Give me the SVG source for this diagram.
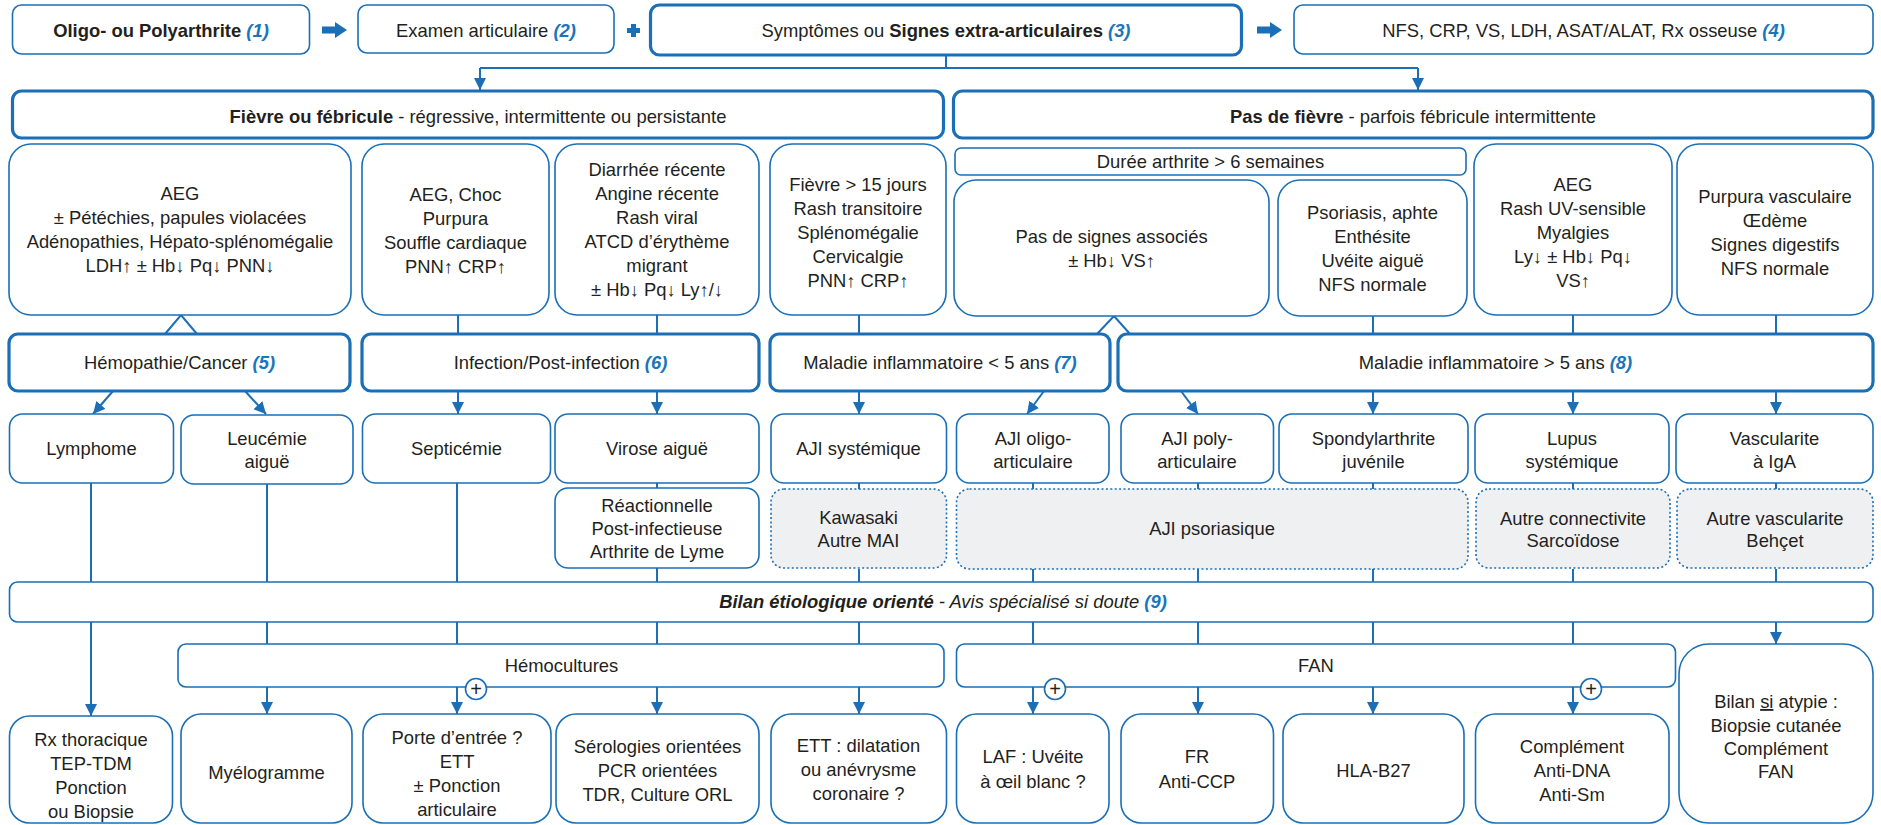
<svg xmlns="http://www.w3.org/2000/svg" width="1881" height="825" viewBox="0 0 1881 825">
<defs>
<style>
.b{fill:#fff;stroke:#1a6fb6;stroke-width:1.6}
.k{fill:#fff;stroke:#1a6fb6;stroke-width:3.2}
.d{fill:#eef0f2;stroke:#1a6fb6;stroke-width:1.6;stroke-dasharray:2 2.4}
.c{stroke:#1a6fb6;stroke-width:2;fill:none}
.a{stroke:#1a6fb6;stroke-width:2;fill:none;marker-end:url(#ah)}
text{font-family:"Liberation Sans",Arial,sans-serif;font-size:18.4px;fill:#231f20;text-anchor:middle}
.bo{font-weight:bold}
.n{fill:#1a75bc;font-weight:bold;font-style:italic}
.pc{fill:#fff;stroke:#1a6fb6;stroke-width:1.6}
.pt{font-size:20px}
.ba{fill:#1a6fb6}
</style>
<marker id="ah" markerUnits="userSpaceOnUse" markerWidth="13" markerHeight="13" refX="12" refY="6" orient="auto">
<path d="M0,0 L12,6 L0,12 z" fill="#1a6fb6"/>
</marker>
</defs>
<rect width="1881" height="825" fill="#fff"/>

<g id="connectors">
<path class="c" d="M946,56 V68 M480,68 H1418"/>
<path class="a" d="M480,68 V90"/>
<path class="a" d="M1418,68 V90"/>
<path class="c" d="M458,315 V333 M657,315 V333 M859,315 V333 M1373,316 V333 M1573,315 V333 M1776,315 V333"/>
<polyline class="c" points="165,334 181,315 197,334"/>
<polyline class="c" points="1097,334 1114,316 1130,334"/>
<path class="a" d="M113,391 L93,414"/>
<path class="a" d="M245,391 L266,414"/>
<path class="a" d="M458,391 V414"/>
<path class="a" d="M657,391 V414"/>
<path class="a" d="M859,391 V414"/>
<path class="a" d="M1044,391 L1027,414"/>
<path class="a" d="M1181,391 L1198,414"/>
<path class="a" d="M1373,391 V414"/>
<path class="a" d="M1573,391 V414"/>
<path class="a" d="M1776,391 V414"/>
<path class="c" d="M91,483 V582 M267,484 V582 M457,483 V582 M657,483 V489 M657,568 V582 M859,483 V489 M859,569 V582 M1033,483 V489 M1033,569 V582 M1198,483 V489 M1198,569 V582 M1373,483 V489 M1373,569 V582 M1573,483 V489 M1573,569 V582 M1776,483 V489 M1776,569 V582"/>
<path class="c" d="M267,622 V644 M457,622 V644 M657,622 V644 M859,622 V644 M1033,622 V644 M1198,622 V644 M1373,622 V644 M1573,622 V644"/>
<path class="a" d="M91,622 V716"/>
<path class="a" d="M267,687 V714"/>
<path class="a" d="M457,687 V714"/>
<path class="a" d="M657,687 V714"/>
<path class="a" d="M859,687 V714"/>
<path class="a" d="M1033,687 V714"/>
<path class="a" d="M1198,687 V714"/>
<path class="a" d="M1373,687 V714"/>
<path class="a" d="M1573,687 V714"/>
<path class="a" d="M1776,622 V644"/>
<path class="ba" d="M322,26.5 H335 V22 L347,30 L335,38 V33.5 H322 Z"/>
<path class="ba" d="M1257,26.5 H1270 V22 L1282,30 L1270,38 V33.5 H1257 Z"/>
<path class="ba" d="M631,24 H636 V28 H640 V33 H636 V37 H631 V33 H627 V28 H631 Z"/>
</g>

<g id="n1"><rect class="b" x="12.5" y="5" width="297" height="49" rx="9"/><text x="161" y="36.5"><tspan class="bo">Oligo- ou Polyarthrite </tspan><tspan class="n">(1)</tspan></text></g>
<g id="n2"><rect class="b" x="358" y="5" width="256" height="48" rx="9"/><text x="486" y="36.5">Examen articulaire <tspan class="n">(2)</tspan></text></g>
<g id="n3"><rect class="k" x="650.5" y="5" width="591" height="50" rx="9"/><text x="946" y="36.5">Symptômes ou <tspan class="bo">Signes extra-articulaires</tspan> <tspan class="n">(3)</tspan></text></g>
<g id="n4"><rect class="b" x="1294" y="5" width="579" height="49" rx="9"/><text x="1583.5" y="36.5">NFS, CRP, VS, LDH, ASAT/ALAT, Rx osseuse <tspan class="n">(4)</tspan></text></g>

<g id="fievre"><rect class="k" x="12.5" y="91" width="931" height="47" rx="9"/><text x="478" y="122.5"><tspan class="bo">Fièvre ou fébricule</tspan> - régressive, intermittente ou persistante</text></g>
<g id="pasfievre"><rect class="k" x="953.5" y="91" width="919.5" height="47" rx="9"/><text x="1413" y="122.5"><tspan class="bo">Pas de fièvre</tspan> - parfois fébricule intermittente</text></g>

<g id="cardA"><rect class="b" x="9" y="144" width="342" height="171" rx="22"/><text x="180"><tspan x="180" y="200">AEG</tspan><tspan x="180" y="224">± Pétéchies, papules violacées</tspan><tspan x="180" y="248">Adénopathies, Hépato-splénomégalie</tspan><tspan x="180" y="272">LDH↑ ± Hb↓ Pq↓ PNN↓</tspan></text></g>
<g id="cardB"><rect class="b" x="362" y="144" width="187" height="171" rx="22"/><text><tspan x="455.5" y="201">AEG, Choc</tspan><tspan x="455.5" y="225">Purpura</tspan><tspan x="455.5" y="249">Souffle cardiaque</tspan><tspan x="455.5" y="273">PNN↑ CRP↑</tspan></text></g>
<g id="cardC"><rect class="b" x="555" y="144" width="204" height="171" rx="22"/><text><tspan x="657" y="176">Diarrhée récente</tspan><tspan x="657" y="200">Angine récente</tspan><tspan x="657" y="224">Rash viral</tspan><tspan x="657" y="248">ATCD d’érythème</tspan><tspan x="657" y="272">migrant</tspan><tspan x="657" y="296">± Hb↓ Pq↓ Ly↑/↓</tspan></text></g>
<g id="cardD"><rect class="b" x="770" y="144" width="176" height="171" rx="22"/><text><tspan x="858" y="191">Fièvre &gt; 15 jours</tspan><tspan x="858" y="215">Rash transitoire</tspan><tspan x="858" y="239">Splénomégalie</tspan><tspan x="858" y="263">Cervicalgie</tspan><tspan x="858" y="287">PNN↑ CRP↑</tspan></text></g>
<g id="duree"><rect class="b" x="955" y="148" width="511" height="27" rx="6"/><text x="1210.5" y="168">Durée arthrite &gt; 6 semaines</text></g>
<g id="cardE"><rect class="b" x="954" y="180" width="315" height="136" rx="22"/><text><tspan x="1111.5" y="243">Pas de signes associés</tspan><tspan x="1111.5" y="267">± Hb↓ VS↑</tspan></text></g>
<g id="cardF"><rect class="b" x="1278" y="180" width="189" height="136" rx="22"/><text><tspan x="1372.5" y="219">Psoriasis, aphte</tspan><tspan x="1372.5" y="243">Enthésite</tspan><tspan x="1372.5" y="267">Uvéite aiguë</tspan><tspan x="1372.5" y="291">NFS normale</tspan></text></g>
<g id="cardG"><rect class="b" x="1474" y="144" width="198" height="171" rx="22"/><text><tspan x="1573" y="191">AEG</tspan><tspan x="1573" y="215">Rash UV-sensible</tspan><tspan x="1573" y="239">Myalgies</tspan><tspan x="1573" y="263">Ly↓ ± Hb↓ Pq↓</tspan><tspan x="1573" y="287">VS↑</tspan></text></g>
<g id="cardH"><rect class="b" x="1677" y="144" width="196" height="171" rx="22"/><text><tspan x="1775" y="203">Purpura vasculaire</tspan><tspan x="1775" y="227">Œdème</tspan><tspan x="1775" y="251">Signes digestifs</tspan><tspan x="1775" y="275">NFS normale</tspan></text></g>

<g id="cat5"><rect class="k" x="9" y="334" width="341" height="57" rx="9"/><text x="179.5" y="368.5">Hémopathie/Cancer <tspan class="n">(5)</tspan></text></g>
<g id="cat6"><rect class="k" x="362" y="334" width="397" height="57" rx="9"/><text x="560.5" y="368.5">Infection/Post-infection <tspan class="n">(6)</tspan></text></g>
<g id="cat7"><rect class="k" x="770" y="334" width="340" height="57" rx="9"/><text x="940" y="368.5">Maladie inflammatoire &lt; 5 ans <tspan class="n">(7)</tspan></text></g>
<g id="cat8"><rect class="k" x="1118" y="334" width="755" height="57" rx="9"/><text x="1495.5" y="368.5">Maladie inflammatoire &gt; 5 ans <tspan class="n">(8)</tspan></text></g>

<g id="lymphome"><rect class="b" x="9.5" y="414" width="164" height="69" rx="13"/><text x="91.5" y="455">Lymphome</text></g>
<g id="leucemie"><rect class="b" x="181" y="415" width="172" height="69" rx="13"/><text><tspan x="267" y="445">Leucémie</tspan><tspan x="267" y="468">aiguë</tspan></text></g>
<g id="septicemie"><rect class="b" x="362.5" y="414" width="188" height="69" rx="13"/><text x="456.5" y="455">Septicémie</text></g>
<g id="virose"><rect class="b" x="555" y="414" width="204" height="69" rx="13"/><text x="657" y="455">Virose aiguë</text></g>
<g id="ajisys"><rect class="b" x="771" y="414" width="175.5" height="69" rx="13"/><text x="858.5" y="455">AJI systémique</text></g>
<g id="ajioligo"><rect class="b" x="956.5" y="414" width="152.5" height="69" rx="13"/><text><tspan x="1033" y="445">AJI oligo-</tspan><tspan x="1033" y="468">articulaire</tspan></text></g>
<g id="ajipoly"><rect class="b" x="1121" y="414" width="152.5" height="69" rx="13"/><text><tspan x="1197" y="445">AJI poly-</tspan><tspan x="1197" y="468">articulaire</tspan></text></g>
<g id="spondyl"><rect class="b" x="1279" y="414" width="189" height="69" rx="13"/><text><tspan x="1373.5" y="445">Spondylarthrite</tspan><tspan x="1373.5" y="468">juvénile</tspan></text></g>
<g id="lupus"><rect class="b" x="1475" y="414" width="194" height="69" rx="13"/><text><tspan x="1572" y="445">Lupus</tspan><tspan x="1572" y="468">systémique</tspan></text></g>
<g id="vasc"><rect class="b" x="1676" y="414" width="197" height="69" rx="13"/><text><tspan x="1774.5" y="445">Vascularite</tspan><tspan x="1774.5" y="468">à IgA</tspan></text></g>

<g id="reactionnelle"><rect class="b" x="555" y="488" width="204" height="80" rx="13"/><text><tspan x="657" y="511.5">Réactionnelle</tspan><tspan x="657" y="534.5">Post-infectieuse</tspan><tspan x="657" y="558">Arthrite de Lyme</tspan></text></g>
<g id="kawasaki"><rect class="d" x="771" y="489" width="175.5" height="79" rx="13"/><text><tspan x="858.5" y="523.5">Kawasaki</tspan><tspan x="858.5" y="546.5">Autre MAI</tspan></text></g>
<g id="ajipso"><rect class="d" x="956.5" y="489" width="511.5" height="80" rx="13"/><text x="1212" y="535">AJI psoriasique</text></g>
<g id="connectivite"><rect class="d" x="1476" y="489" width="194" height="79" rx="13"/><text><tspan x="1573" y="524.5">Autre connectivite</tspan><tspan x="1573" y="546.5">Sarcoïdose</tspan></text></g>
<g id="autrevasc"><rect class="d" x="1677" y="489" width="196" height="79" rx="13"/><text><tspan x="1775" y="524.5">Autre vascularite</tspan><tspan x="1775" y="546.5">Behçet</tspan></text></g>

<g id="bilan"><rect class="b" x="9.5" y="582" width="1863.5" height="40" rx="8"/><text x="943" y="608" font-style="italic"><tspan class="bo">Bilan étiologique orienté</tspan> - Avis spécialisé si doute <tspan fill="#1a75bc" font-weight="bold">(9)</tspan></text></g>

<g id="hemoc"><rect class="b" x="178" y="644" width="766" height="43" rx="8"/><text x="561.5" y="671.5">Hémocultures</text></g>
<g id="fan"><rect class="b" x="956.5" y="644" width="719" height="43" rx="8"/><text x="1316" y="671.5">FAN</text></g>

<g id="rx"><rect class="b" x="9.5" y="716" width="163" height="107" rx="20"/><text><tspan x="91" y="745.5">Rx thoracique</tspan><tspan x="91" y="769.5">TEP-TDM</tspan><tspan x="91" y="793.5">Ponction</tspan><tspan x="91" y="817.5">ou Biopsie</tspan></text></g>
<g id="myelo"><rect class="b" x="181" y="714" width="171" height="109" rx="20"/><text x="266.5" y="778.5">Myélogramme</text></g>
<g id="porte"><rect class="b" x="363" y="714" width="188" height="109" rx="20"/><text><tspan x="457" y="743.5">Porte d’entrée ?</tspan><tspan x="457" y="767.5">ETT</tspan><tspan x="457" y="791.5">± Ponction</tspan><tspan x="457" y="815.5">articulaire</tspan></text></g>
<g id="serologies"><rect class="b" x="556" y="714" width="203" height="109" rx="20"/><text><tspan x="657.5" y="753">Sérologies orientées</tspan><tspan x="657.5" y="777">PCR orientées</tspan><tspan x="657.5" y="801">TDR, Culture ORL</tspan></text></g>
<g id="ett"><rect class="b" x="771" y="714" width="175.5" height="109" rx="20"/><text><tspan x="858.5" y="752">ETT : dilatation</tspan><tspan x="858.5" y="776">ou anévrysme</tspan><tspan x="858.5" y="800">coronaire ?</tspan></text></g>
<g id="laf"><rect class="b" x="956.5" y="714" width="152.5" height="109" rx="20"/><text><tspan x="1033" y="763">LAF : Uvéite</tspan><tspan x="1033" y="788">à œil blanc ?</tspan></text></g>
<g id="fr"><rect class="b" x="1121" y="714" width="152.5" height="109" rx="20"/><text><tspan x="1197" y="763">FR</tspan><tspan x="1197" y="788">Anti-CCP</tspan></text></g>
<g id="hla"><rect class="b" x="1283" y="714" width="181" height="109" rx="20"/><text x="1373.5" y="776.5">HLA-B27</text></g>
<g id="complement"><rect class="b" x="1475.5" y="714" width="193.5" height="109" rx="20"/><text><tspan x="1572" y="753">Complément</tspan><tspan x="1572" y="777">Anti-DNA</tspan><tspan x="1572" y="801">Anti-Sm</tspan></text></g>
<g id="atypie"><rect class="b" x="1679" y="644" width="194" height="179" rx="30"/><text><tspan x="1776" y="708">Bilan <tspan text-decoration="underline">si</tspan> atypie :</tspan><tspan x="1776" y="731.5">Biopsie cutanée</tspan><tspan x="1776" y="755">Complément</tspan><tspan x="1776" y="778">FAN</tspan></text></g>

<g id="plus-markers">
<g id="plus1"><circle class="pc" cx="476" cy="689" r="10.5"/><text class="pt" x="476" y="696">+</text></g>
<g id="plus2"><circle class="pc" cx="1055" cy="689" r="10.5"/><text class="pt" x="1055" y="696">+</text></g>
<g id="plus3"><circle class="pc" cx="1591" cy="689" r="10.5"/><text class="pt" x="1591" y="696">+</text></g>
</g>
</svg>
